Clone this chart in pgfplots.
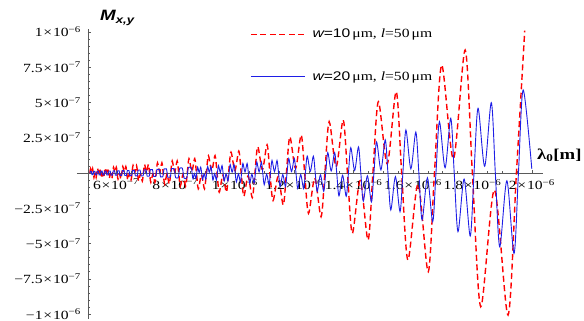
\documentclass[border=0pt]{standalone}
\usepackage{fontspec}
\setmainfont{Liberation Serif}[FakeStretch=1.25]
\newfontfamily\arial{Liberation Sans}[FakeStretch=1.25]
\usepackage{pgfplots}
\pgfplotsset{compat=1.18}
\definecolor{myred}{RGB}{255,0,0}
\definecolor{myblue}{RGB}{30,30,230}
\definecolor{axgray}{RGB}{90,90,90}
\newcommand{\sci}[2]{#1\kern0.8pt×\kern0.8pt10\textsuperscript{−#2}}
\begin{document}
\begin{tikzpicture}
\begin{axis}[
 scale only axis, width=455pt, height=290pt,
 xmin=0.5057, xmax=2.0377, ymin=-1.035, ymax=1.021,
 axis x line=middle, axis y line=left,
 axis line style={-, draw=axgray, line width=0.6pt},
 xtick={0.6,0.8,1.0,1.2,1.4,1.6,1.8,2.0},
 xticklabels={\sci{6}{7},\sci{8}{7},\sci{1}{6},\sci{1.2}{6},\sci{1.4}{6},\sci{1.6}{6},\sci{1.8}{6},\sci{2}{6}},
 ytick={-1,-0.75,-0.5,-0.25,0.25,0.5,0.75,1},
 yticklabels={\sci{−1}{6},\sci{−7.5}{7},\sci{−5}{7},\sci{−2.5}{7},\sci{2.5}{7},\sci{5}{7},\sci{7.5}{7},\sci{1}{6}},
 minor xtick={0.55,0.6,...,2.0},
 minor ytick={-1,-0.95,...,1.0},
 tick align=inside,
 major tick length=3.5pt, minor tick length=2pt,
 tick style={axgray, line width=0.5pt},
 ticklabel style={font=\fontsize{12.5}{14}\selectfont, inner sep=0pt},
 xticklabel style={anchor=north, yshift=-6pt},
 yticklabel style={anchor=east, xshift=-7pt},
 legend style={at={(axis description cs:0.356,0.909)}, anchor=west, draw=none, fill=none, inner sep=0pt, row sep=28pt, column sep=5pt, font=\fontsize{12.5}{14}\selectfont},
 legend cell align=left,
 legend image code/.code={\draw[#1] (0pt,0pt) -- (54pt,0pt);},
]
\addplot[myred, line width=1.4pt, dash pattern=on 6pt off 3.5pt, smooth] coordinates {
(0.5121,0)
(0.5143,0.03)(0.5178,0.004)(0.5213,0.03)(0.5235,0)
(0.5258,-0.031)(0.5295,-0.004)(0.5331,-0.031)(0.5354,0)
(0.5378,0.033)(0.5416,0.004)(0.5454,0.033)(0.5478,0)
(0.5503,-0.034)(0.5543,-0.004)(0.5583,-0.034)(0.5608,0)
(0.5634,0.036)(0.5676,0.004)(0.5718,0.036)(0.5744,0)
(0.5771,-0.038)(0.5816,-0.005)(0.5860,-0.038)(0.5887,0)
(0.5916,0.041)(0.5963,0.005)(0.6009,0.041)(0.6038,0)
(0.6068,-0.043)(0.6117,-0.005)(0.6166,-0.043)(0.6196,0)
(0.6228,0.046)(0.6280,0.006)(0.6331,0.046)(0.6363,0)
(0.6396,-0.049)(0.6451,-0.006)(0.6506,-0.049)(0.6539,0)
(0.6574,0.053)(0.6632,0.006)(0.6690,0.053)(0.6725,0)
(0.6762,-0.057)(0.6824,-0.007)(0.6885,-0.057)(0.6922,0)
(0.6962,0.061)(0.7027,0.007)(0.7091,0.061)(0.7131,0)
(0.7173,-0.066)(0.7242,-0.008)(0.7311,-0.066)(0.7353,0)
(0.7398,0.072)(0.7472,0.009)(0.7545,0.072)(0.7590,0)
(0.7638,-0.078)(0.7716,-0.009)(0.7793,-0.078)(0.7841,0)
(0.7892,0.085)(0.7976,0.01)(0.8060,0.085)(0.8111,0)
(0.8166,-0.093)(0.8255,-0.011)(0.8344,-0.093)(0.8399,0)
(0.8458,0.102)(0.8554,0.012)(0.8650,0.102)(0.8709,0)
(0.8772,-0.112)(0.8876,-0.013)(0.8979,-0.112)(0.9042,0)
(0.9110,0.123)(0.9222,0.015)(0.9334,0.123)(0.9402,0)
(0.9476,-0.136)(0.9597,-0.016)(0.9717,-0.136)(0.9791,0)
(0.9872,0.148)(1.0004,0.018)(1.0135,0.155)(1.0216,0)
(1.0304,-0.165)(1.0447,-0.02)(1.0589,-0.175)(1.0677,0)
(1.0773,0.187)(1.0930,0.023)(1.1086,0.2)(1.1182,0)
(1.1287,-0.195)(1.1460,-0.025)(1.1632,-0.227)(1.1737,0)
(1.1854,0.257)(1.2045,0.032)(1.2235,0.27)(1.2352,0)
(1.2481,-0.286)(1.2693,-0.036)(1.2904,-0.31)(1.3033,0)
(1.3177,0.364)(1.3413,0.045)(1.3649,0.376)(1.3793,0)
(1.3956,-0.428)(1.4222,-0.054)(1.4487,-0.475)(1.4650,0)
(1.4834,0.506)(1.5134,0.065)(1.5434,0.577)(1.5618,0)
(1.5828,-0.617)(1.6170,-0.08)(1.6512,-0.70)(1.6722,0)
(1.6965,0.766)(1.7361,0.1)(1.7756,0.872)(1.7999,0)
(1.8281,-0.948)(1.8741,-0.12)(1.9200,-1.007)(1.9482,0)
(1.9762,1.01)
};
\addlegendentry{{\arial\itshape w}{\arial =10}\,μm, \textit{l}=50\,μm}
\addplot[myblue, line width=0.9pt, smooth] coordinates {
(0.5124,0)
(0.5135,0.012)(0.5169,0.012)(0.5180,0)
(0.5191,-0.012)(0.5226,-0.012)(0.5237,0)
(0.5248,0.012)(0.5285,0.012)(0.5296,0)
(0.5307,-0.012)(0.5345,-0.012)(0.5356,0)
(0.5368,0.013)(0.5406,0.013)(0.5418,0)
(0.5430,-0.013)(0.5468,-0.013)(0.5480,0)
(0.5492,0.013)(0.5533,0.013)(0.5545,0)
(0.5558,-0.013)(0.5598,-0.013)(0.5611,0)
(0.5624,0.014)(0.5665,0.014)(0.5678,0)
(0.5691,-0.014)(0.5734,-0.014)(0.5747,0)
(0.5760,0.014)(0.5805,0.014)(0.5818,0)
(0.5832,-0.015)(0.5877,-0.015)(0.5891,0)
(0.5905,0.015)(0.5951,0.015)(0.5965,0)
(0.5980,-0.016)(0.6027,-0.016)(0.6042,0)
(0.6057,0.016)(0.6105,0.016)(0.6120,0)
(0.6135,-0.017)(0.6185,-0.017)(0.6200,0)
(0.6216,0.017)(0.6267,0.017)(0.6283,0)
(0.6299,-0.018)(0.6351,-0.018)(0.6367,0)
(0.6384,0.018)(0.6437,0.018)(0.6454,0)
(0.6471,-0.019)(0.6527,-0.019)(0.6544,0)
(0.6561,0.019)(0.6619,0.019)(0.6636,0)
(0.6654,-0.02)(0.6712,-0.02)(0.6730,0)
(0.6749,0.021)(0.6809,0.021)(0.6828,0)
(0.6847,-0.021)(0.6909,-0.021)(0.6928,0)
(0.6948,0.022)(0.7011,0.022)(0.7031,0)
(0.7051,-0.023)(0.7117,-0.023)(0.7137,0)
(0.7158,0.024)(0.7226,0.024)(0.7247,0)
(0.7268,-0.025)(0.7339,-0.025)(0.7360,0)
(0.7382,0.026)(0.7455,0.026)(0.7477,0)
(0.7500,-0.027)(0.7574,-0.027)(0.7597,0)
(0.7621,0.029)(0.7697,0.029)(0.7721,0)
(0.7745,-0.03)(0.7825,-0.03)(0.7849,0)
(0.7874,0.031)(0.7957,0.031)(0.7982,0)
(0.8008,-0.033)(0.8093,-0.033)(0.8119,0)
(0.8146,0.034)(0.8234,0.034)(0.8261,0)
(0.8289,-0.036)(0.8380,-0.036)(0.8408,0)
(0.8437,0.038)(0.8532,0.038)(0.8561,0)
(0.8591,-0.04)(0.8640,-0.004)(0.8689,-0.04)(0.8719,0)
(0.8750,0.042)(0.8801,0.004)(0.8852,0.042)(0.8883,0)
(0.8915,-0.045)(0.8968,-0.005)(0.9021,-0.045)(0.9053,0)
(0.9087,0.047)(0.9142,0.005)(0.9196,0.047)(0.9230,0)
(0.9265,-0.05)(0.9322,-0.005)(0.9379,-0.05)(0.9414,0)
(0.9450,0.053)(0.9510,0.005)(0.9570,0.053)(0.9606,0)
(0.9644,-0.057)(0.9706,-0.006)(0.9768,-0.057)(0.9806,0)
(0.9845,0.06)(0.9910,0.006)(0.9974,0.06)(1.0013,0)
(1.0054,-0.064)(1.0122,-0.006)(1.0189,-0.064)(1.0230,0)
(1.0273,0.068)(1.0344,0.007)(1.0414,0.068)(1.0457,0)
(1.0502,-0.073)(1.0576,-0.007)(1.0649,-0.073)(1.0694,0)
(1.0741,0.078)(1.0818,0.008)(1.0895,0.078)(1.0942,0)
(1.0991,-0.083)(1.1072,-0.008)(1.1152,-0.083)(1.1201,0)
(1.1253,0.089)(1.1337,0.009)(1.1421,0.089)(1.1473,0)
(1.1527,-0.096)(1.1616,-0.01)(1.1705,-0.096)(1.1759,0)
(1.1816,0.103)(1.1910,0.01)(1.2003,0.103)(1.2060,0)
(1.2120,-0.111)(1.2218,-0.011)(1.2316,-0.111)(1.2376,0)
(1.2439,0.12)(1.2542,0.012)(1.2645,0.12)(1.2708,0)
(1.2775,-0.13)(1.2884,-0.013)(1.2993,-0.13)(1.3060,0)
(1.3131,0.145)(1.3246,0.014)(1.3361,0.145)(1.3432,0)
(1.3507,-0.162)(1.3629,-0.016)(1.3751,-0.165)(1.3826,0)
(1.3905,0.18)(1.4035,0.018)(1.4164,0.185)(1.4243,0)
(1.4327,-0.2)(1.4464,-0.02)(1.4600,-0.205)(1.4684,0)
(1.4774,0.22)(1.4920,0.022)(1.5066,0.235)(1.5156,0)
(1.5252,-0.262)(1.5408,-0.026)(1.5563,-0.274)(1.5659,0)
(1.5761,0.305)(1.5928,0.03)(1.6095,0.29)(1.6197,0)
(1.6306,-0.333)(1.6485,-0.034)(1.6664,-0.345)(1.6773,0)
(1.6890,0.364)(1.7081,0.037)(1.7271,0.388)(1.7388,0)
(1.7515,-0.416)(1.7721,-0.043)(1.7927,-0.447)(1.8054,0)
(1.8190,0.459)(1.8413,0.048)(1.8636,0.499)(1.8772,0)
(1.8920,-0.523)(1.9161,-0.055)(1.9402,-0.57)(1.9550,0)
(1.9710,0.589)(2.0000,0.03)
};
\addlegendentry{{\arial\itshape w}{\arial =20}\,μm, \textit{l}=50\,μm}
\end{axis}
\draw[axgray, line width=0.6pt] (-11pt,146pt) -- (0pt,146pt);
\node[anchor=west, inner sep=0pt] at (12pt,301pt) {\arial\bfseries\itshape\fontsize{15}{17}\selectfont M\textsubscript{x,y}};
\node[anchor=west, inner sep=0pt] at (449pt,164pt) {\bfseries\fontsize{15}{17}\selectfont λ\textsubscript{0}[m]};
\pgfresetboundingbox
\path[use as bounding box] (-88pt,-2pt) rectangle (496pt,319pt);
\end{tikzpicture}
\end{document}
